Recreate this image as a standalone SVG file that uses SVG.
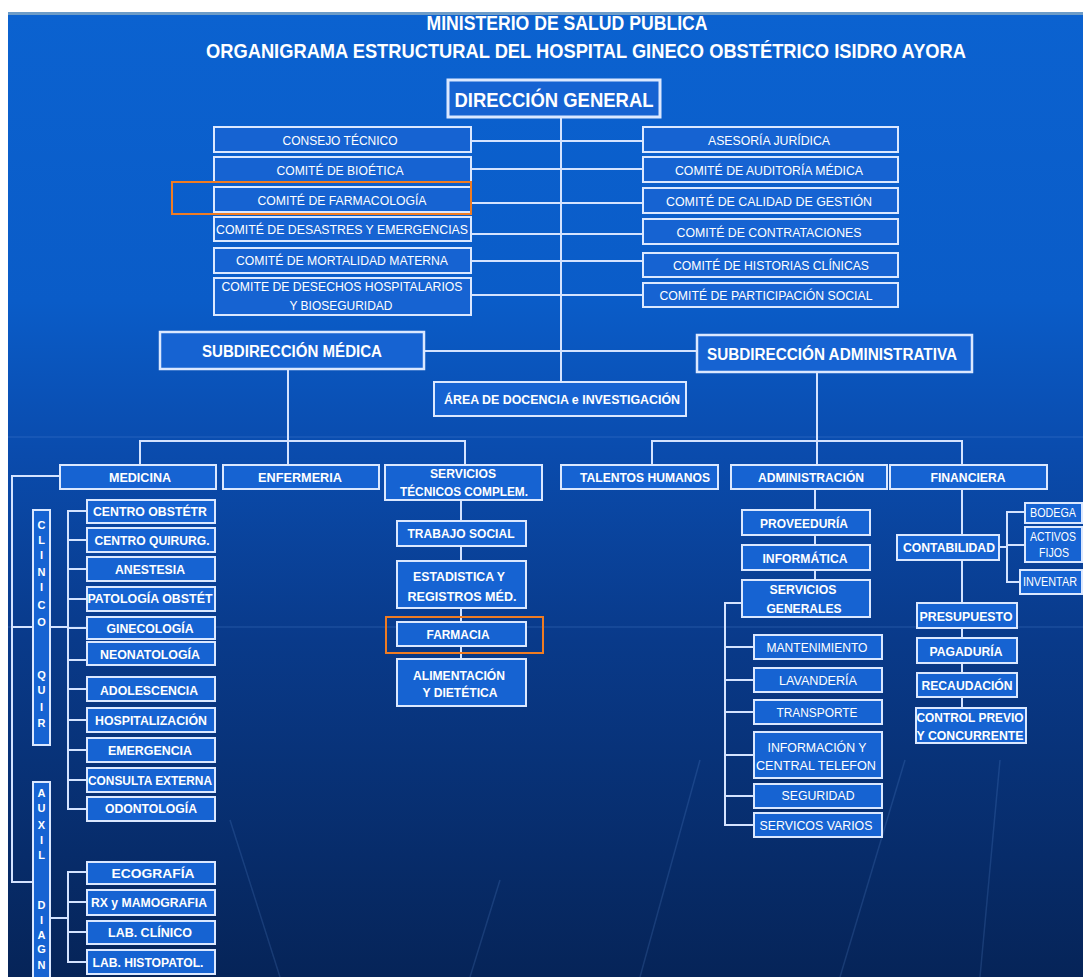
<svg xmlns="http://www.w3.org/2000/svg" width="1083" height="977" viewBox="0 0 1083 977">
<defs>
<linearGradient id="bg" x1="0" y1="0" x2="0" y2="1">
<stop offset="0" stop-color="#0b62d0"/>
<stop offset="0.3" stop-color="#0a5cc8"/>
<stop offset="0.45" stop-color="#0a4cae"/>
<stop offset="0.65" stop-color="#093a8a"/>
<stop offset="1" stop-color="#062458"/>
</linearGradient>
<style>
.bx{fill:#1663d2;stroke:#dbe8ff;stroke-width:2}
.hl{fill:none;stroke:#f07c22;stroke-width:2}
.cn{fill:none;stroke:#d4e3ff;stroke-width:2}
.dec{fill:none;stroke:#6ea0e8;stroke-width:1.5;opacity:0.18}
.t{font-family:"Liberation Sans Narrow","Liberation Sans",Arial,sans-serif;fill:#ffffff;text-anchor:middle}
.r{font-size:13px;font-weight:normal}
.s{font-size:12px;font-weight:normal}
.b{font-size:13px;font-weight:bold}
.v{font-family:"Liberation Sans",Arial,sans-serif;font-size:11px;font-weight:bold;fill:#ffffff;text-anchor:middle}
</style>
</defs>
<rect x="0" y="0" width="1083" height="977" fill="#ffffff"/>
<rect x="8" y="12" width="1075" height="965" fill="url(#bg)"/>
<rect x="8" y="12" width="1075" height="3" fill="#6d9cc8"/>
<g id="background-lines">
<line class="dec" x1="8" y1="437" x2="1083" y2="437"/>
<line class="dec" x1="8" y1="627" x2="1083" y2="627"/>
<line class="dec" x1="640" y1="977" x2="700" y2="760"/>
<line class="dec" x1="840" y1="977" x2="905" y2="760"/>
<line class="dec" x1="980" y1="977" x2="1000" y2="760"/>
<line class="dec" x1="280" y1="977" x2="230" y2="820"/>
<line class="dec" x1="470" y1="977" x2="500" y2="880"/>
</g>
<g id="title">
<text class="t" x="567" y="30" style="font-size:21px;font-weight:bold" textLength="281" lengthAdjust="spacingAndGlyphs">MINISTERIO DE SALUD PUBLICA</text>
<text class="t" x="586" y="58" style="font-size:21px;font-weight:bold" textLength="760" lengthAdjust="spacingAndGlyphs">ORGANIGRAMA ESTRUCTURAL DEL HOSPITAL GINECO OBSTÉTRICO ISIDRO AYORA</text>
</g>
<g id="connectors">
<line class="cn" x1="561" y1="117" x2="561" y2="382"/>
<line class="cn" x1="471" y1="141" x2="643" y2="141"/>
<line class="cn" x1="471" y1="169" x2="643" y2="169"/>
<line class="cn" x1="471" y1="203" x2="643" y2="203"/>
<line class="cn" x1="471" y1="234" x2="643" y2="234"/>
<line class="cn" x1="471" y1="261" x2="643" y2="261"/>
<line class="cn" x1="471" y1="295" x2="643" y2="295"/>
<line class="cn" x1="424" y1="351" x2="697" y2="351"/>
<line class="cn" x1="288" y1="369" x2="288" y2="465"/>
<polyline class="cn" points="140,465 140,441 465,441 465,465"/>
<line class="cn" x1="817" y1="372" x2="817" y2="465"/>
<polyline class="cn" points="652,465 652,441 962,441 962,465"/>
<line class="cn" x1="815" y1="489" x2="815" y2="580"/>
<polyline class="cn" points="742,603 725,603 725,825 754,825"/>
<line class="cn" x1="725" y1="647" x2="754" y2="647"/>
<line class="cn" x1="725" y1="680" x2="754" y2="680"/>
<line class="cn" x1="725" y1="712" x2="754" y2="712"/>
<line class="cn" x1="725" y1="755" x2="754" y2="755"/>
<line class="cn" x1="725" y1="796" x2="754" y2="796"/>
<line class="cn" x1="962" y1="489" x2="962" y2="708"/>
<line class="cn" x1="999" y1="547" x2="1007" y2="547"/>
<polyline class="cn" points="1025,512 1007,512 1007,582 1020,582"/>
<line class="cn" x1="1007" y1="545" x2="1025" y2="545"/>
<line class="cn" x1="461" y1="500" x2="461" y2="659"/>
<polyline class="cn" points="60,476 12,476 12,882 33,882"/>
<line class="cn" x1="12" y1="627" x2="33" y2="627"/>
<line class="cn" x1="50" y1="627" x2="68" y2="627"/>
<polyline class="cn" points="87,511 68,511 68,809 87,809"/>
<line class="cn" x1="68" y1="540" x2="87" y2="540"/>
<line class="cn" x1="68" y1="569" x2="87" y2="569"/>
<line class="cn" x1="68" y1="599" x2="87" y2="599"/>
<line class="cn" x1="68" y1="628" x2="87" y2="628"/>
<line class="cn" x1="68" y1="660" x2="87" y2="660"/>
<line class="cn" x1="68" y1="689" x2="87" y2="689"/>
<line class="cn" x1="68" y1="720" x2="87" y2="720"/>
<line class="cn" x1="68" y1="750" x2="87" y2="750"/>
<line class="cn" x1="68" y1="780" x2="87" y2="780"/>
<line class="cn" x1="50" y1="918" x2="68" y2="918"/>
<polyline class="cn" points="87,872 68,872 68,962 87,962"/>
<line class="cn" x1="68" y1="902" x2="87" y2="902"/>
<line class="cn" x1="68" y1="932" x2="87" y2="932"/>
</g>
<g id="direccion-general"><rect class="bx" x="448" y="80" width="212" height="37" style="stroke-width:3"/><text class="t" x="554" y="107" style="font-size:21px;font-weight:bold" textLength="199" lengthAdjust="spacingAndGlyphs">DIRECCIÓN GENERAL</text></g>
<g id="consejo-tecnico"><rect class="bx" x="214" y="127" width="257" height="25"/><text class="t r" x="340" y="145" textLength="115" lengthAdjust="spacingAndGlyphs">CONSEJO TÉCNICO</text></g>
<g id="comite-bioetica"><rect class="bx" x="214" y="157" width="257" height="25"/><text class="t r" x="340" y="175" textLength="127" lengthAdjust="spacingAndGlyphs">COMITÉ DE BIOÉTICA</text></g>
<g id="comite-farmacologia"><rect class="bx" x="214" y="187" width="257" height="25"/><text class="t r" x="342" y="205" textLength="169" lengthAdjust="spacingAndGlyphs">COMITÉ DE FARMACOLOGÍA</text><rect class="hl" x="172" y="182" width="299" height="32"/></g>
<g id="comite-desastres"><rect class="bx" x="214" y="217" width="257" height="24"/><text class="t r" x="342" y="234" textLength="252" lengthAdjust="spacingAndGlyphs">COMITÉ  DE DESASTRES Y EMERGENCIAS</text></g>
<g id="comite-mortalidad"><rect class="bx" x="214" y="248" width="257" height="25"/><text class="t r" x="342" y="265" textLength="212" lengthAdjust="spacingAndGlyphs">COMITÉ DE MORTALIDAD MATERNA</text></g>
<g id="comite-desechos"><rect class="bx" x="214" y="278" width="257" height="37"/><text class="t r" x="342" y="291" textLength="241" lengthAdjust="spacingAndGlyphs">COMITE DE DESECHOS HOSPITALARIOS</text><text class="t r" x="341" y="310" textLength="103" lengthAdjust="spacingAndGlyphs">Y BIOSEGURIDAD</text></g>
<g id="asesoria-juridica"><rect class="bx" x="643" y="127" width="255" height="25"/><text class="t r" x="769" y="145" textLength="122" lengthAdjust="spacingAndGlyphs">ASESORÍA JURÍDICA</text></g>
<g id="comite-auditoria"><rect class="bx" x="643" y="157" width="255" height="25"/><text class="t r" x="769" y="175" textLength="188" lengthAdjust="spacingAndGlyphs">COMITÉ DE AUDITORÍA MÉDICA</text></g>
<g id="comite-calidad"><rect class="bx" x="643" y="188" width="255" height="25"/><text class="t r" x="769" y="206" textLength="206" lengthAdjust="spacingAndGlyphs">COMITÉ DE  CALIDAD DE GESTIÓN</text></g>
<g id="comite-contrataciones"><rect class="bx" x="643" y="219" width="255" height="25"/><text class="t r" x="769" y="237" textLength="185" lengthAdjust="spacingAndGlyphs">COMITÉ DE CONTRATACIONES</text></g>
<g id="comite-historias"><rect class="bx" x="643" y="253" width="255" height="24"/><text class="t r" x="771" y="270" textLength="196" lengthAdjust="spacingAndGlyphs">COMITÉ DE HISTORIAS CLÍNICAS</text></g>
<g id="comite-participacion"><rect class="bx" x="643" y="283" width="255" height="24"/><text class="t r" x="766" y="300" textLength="213" lengthAdjust="spacingAndGlyphs">COMITÉ DE PARTICIPACIÓN SOCIAL</text></g>
<g id="subdireccion-medica"><rect class="bx" x="160" y="332" width="264" height="37" style="stroke-width:2.5"/><text class="t" x="292" y="357" style="font-size:16px;font-weight:bold" textLength="180" lengthAdjust="spacingAndGlyphs">SUBDIRECCIÓN MÉDICA</text></g>
<g id="subdireccion-administrativa"><rect class="bx" x="697" y="335" width="275" height="37" style="stroke-width:2.5"/><text class="t" x="832" y="360" style="font-size:16px;font-weight:bold" textLength="250" lengthAdjust="spacingAndGlyphs">SUBDIRECCIÓN ADMINISTRATIVA</text></g>
<g id="area-docencia"><rect class="bx" x="434" y="382" width="252" height="34"/><text class="t b" x="562" y="404" textLength="236" lengthAdjust="spacingAndGlyphs">ÁREA DE DOCENCIA e INVESTIGACIÓN</text></g>
<g id="medicina"><rect class="bx" x="60" y="465" width="156" height="24"/><text class="t b" x="140" y="482" textLength="62" lengthAdjust="spacingAndGlyphs">MEDICINA</text></g>
<g id="enfermeria"><rect class="bx" x="223" y="465" width="156" height="24"/><text class="t b" x="300" y="482" textLength="84" lengthAdjust="spacingAndGlyphs">ENFERMERIA</text></g>
<g id="servicios-tecnicos"><rect class="bx" x="385" y="465" width="157" height="35"/><text class="t b" x="463" y="478" textLength="66" lengthAdjust="spacingAndGlyphs">SERVICIOS</text><text class="t b" x="464" y="496" textLength="128" lengthAdjust="spacingAndGlyphs">TÉCNICOS COMPLEM.</text></g>
<g id="talentos-humanos"><rect class="bx" x="561" y="465" width="157" height="24"/><text class="t b" x="645" y="482" textLength="130" lengthAdjust="spacingAndGlyphs">TALENTOS HUMANOS</text></g>
<g id="administracion"><rect class="bx" x="731" y="465" width="156" height="24"/><text class="t b" x="811" y="482" textLength="106" lengthAdjust="spacingAndGlyphs">ADMINISTRACIÓN</text></g>
<g id="financiera"><rect class="bx" x="890" y="465" width="157" height="24"/><text class="t b" x="968" y="482" textLength="75" lengthAdjust="spacingAndGlyphs">FINANCIERA</text></g>
<g id="trabajo-social"><rect class="bx" x="397" y="521" width="129" height="25"/><text class="t b" x="461" y="538" textLength="107" lengthAdjust="spacingAndGlyphs">TRABAJO SOCIAL</text></g>
<g id="estadistica"><rect class="bx" x="397" y="561" width="129" height="47"/><text class="t b" x="459" y="581" textLength="92" lengthAdjust="spacingAndGlyphs">ESTADISTICA Y</text><text class="t b" x="462" y="601" textLength="109" lengthAdjust="spacingAndGlyphs">REGISTROS MÉD.</text></g>
<g id="farmacia"><rect class="bx" x="397" y="622" width="129" height="24"/><text class="t b" x="458" y="639" textLength="63" lengthAdjust="spacingAndGlyphs">FARMACIA</text><rect class="hl" x="386" y="617" width="157" height="36"/></g>
<g id="alimentacion"><rect class="bx" x="397" y="659" width="129" height="47"/><text class="t b" x="459" y="680" textLength="92" lengthAdjust="spacingAndGlyphs">ALIMENTACIÓN</text><text class="t b" x="460" y="697" textLength="75" lengthAdjust="spacingAndGlyphs">Y DIETÉTICA</text></g>
<g id="clinico-quir"><rect class="bx" x="33" y="510" width="17" height="235"/>
<text class="v" x="41.5" y="529">C</text><text class="v" x="41.5" y="544">L</text><text class="v" x="41.5" y="559">I</text><text class="v" x="41.5" y="576">N</text><text class="v" x="41.5" y="591">I</text><text class="v" x="41.5" y="609">C</text><text class="v" x="41.5" y="626">O</text><text class="v" x="41.5" y="679">Q</text><text class="v" x="41.5" y="694">U</text><text class="v" x="41.5" y="711">I</text><text class="v" x="41.5" y="727">R</text></g>
<g id="centro-obstetrico"><rect class="bx" x="87" y="500" width="128" height="23"/><text class="t b" x="150" y="516" textLength="114" lengthAdjust="spacingAndGlyphs">CENTRO OBSTÉTR</text></g>
<g id="centro-quirurgico"><rect class="bx" x="87" y="528" width="128" height="24"/><text class="t b" x="152" y="545" textLength="115" lengthAdjust="spacingAndGlyphs">CENTRO QUIRURG.</text></g>
<g id="anestesia"><rect class="bx" x="87" y="557" width="128" height="24"/><text class="t b" x="150" y="574" textLength="70" lengthAdjust="spacingAndGlyphs">ANESTESIA</text></g>
<g id="patologia-obstetrica"><rect class="bx" x="87" y="587" width="128" height="24"/><text class="t b" x="150" y="603" textLength="125" lengthAdjust="spacingAndGlyphs">PATOLOGÍA OBSTÉT</text></g>
<g id="ginecologia"><rect class="bx" x="87" y="617" width="128" height="22"/><text class="t b" x="150" y="633" textLength="87" lengthAdjust="spacingAndGlyphs">GINECOLOGÍA</text></g>
<g id="neonatologia"><rect class="bx" x="87" y="642" width="128" height="23"/><text class="t b" x="150" y="659" textLength="100" lengthAdjust="spacingAndGlyphs">NEONATOLOGÍA</text></g>
<g id="adolescencia"><rect class="bx" x="87" y="677" width="128" height="24"/><text class="t b" x="149" y="695" textLength="98" lengthAdjust="spacingAndGlyphs">ADOLESCENCIA</text></g>
<g id="hospitalizacion"><rect class="bx" x="87" y="708" width="128" height="24"/><text class="t b" x="151" y="725" textLength="112" lengthAdjust="spacingAndGlyphs">HOSPITALIZACIÓN</text></g>
<g id="emergencia"><rect class="bx" x="87" y="738" width="128" height="24"/><text class="t b" x="150" y="755" textLength="84" lengthAdjust="spacingAndGlyphs">EMERGENCIA</text></g>
<g id="consulta-externa"><rect class="bx" x="87" y="768" width="128" height="24"/><text class="t b" x="150" y="785" textLength="124" lengthAdjust="spacingAndGlyphs">CONSULTA EXTERNA</text></g>
<g id="odontologia"><rect class="bx" x="87" y="797" width="128" height="24"/><text class="t b" x="151" y="813" textLength="92" lengthAdjust="spacingAndGlyphs">ODONTOLOGÍA</text></g>
<g id="auxil-diag"><rect class="bx" x="33" y="782" width="17" height="210"/>
<text class="v" x="41.5" y="797">A</text><text class="v" x="41.5" y="812">U</text><text class="v" x="41.5" y="829">X</text><text class="v" x="41.5" y="844">I</text><text class="v" x="41.5" y="859">L</text><text class="v" x="41.5" y="909">D</text><text class="v" x="41.5" y="924">I</text><text class="v" x="41.5" y="939">A</text><text class="v" x="41.5" y="953">G</text><text class="v" x="41.5" y="969">N</text></g>
<g id="ecografia"><rect class="bx" x="87" y="862" width="128" height="22"/><text class="t b" x="153" y="878" textLength="83" lengthAdjust="spacingAndGlyphs">ECOGRAFÍA</text></g>
<g id="rx-mamografia"><rect class="bx" x="87" y="890" width="128" height="25"/><text class="t b" x="149" y="907" textLength="116" lengthAdjust="spacingAndGlyphs">RX y MAMOGRAFIA</text></g>
<g id="lab-clinico"><rect class="bx" x="87" y="921" width="128" height="23"/><text class="t b" x="150" y="937" textLength="84" lengthAdjust="spacingAndGlyphs">LAB. CLÍNICO</text></g>
<g id="lab-histopatologia"><rect class="bx" x="87" y="950" width="128" height="24"/><text class="t b" x="148" y="967" textLength="111" lengthAdjust="spacingAndGlyphs">LAB. HISTOPATOL.</text></g>
<g id="proveeduria"><rect class="bx" x="742" y="510" width="128" height="25"/><text class="t b" x="804" y="528" textLength="88" lengthAdjust="spacingAndGlyphs">PROVEEDURÍA</text></g>
<g id="informatica"><rect class="bx" x="742" y="545" width="128" height="25"/><text class="t b" x="805" y="563" textLength="85" lengthAdjust="spacingAndGlyphs">INFORMÁTICA</text></g>
<g id="servicios-generales"><rect class="bx" x="742" y="580" width="128" height="37"/><text class="t b" x="803" y="594" textLength="67" lengthAdjust="spacingAndGlyphs">SERVICIOS</text><text class="t b" x="804" y="613" textLength="75" lengthAdjust="spacingAndGlyphs">GENERALES</text></g>
<g id="mantenimiento"><rect class="bx" x="754" y="635" width="128" height="24"/><text class="t r" x="817" y="652" textLength="101" lengthAdjust="spacingAndGlyphs">MANTENIMIENTO</text></g>
<g id="lavanderia"><rect class="bx" x="754" y="668" width="128" height="24"/><text class="t r" x="818" y="685" textLength="78" lengthAdjust="spacingAndGlyphs">LAVANDERÍA</text></g>
<g id="transporte"><rect class="bx" x="754" y="700" width="128" height="24"/><text class="t r" x="817" y="717" textLength="81" lengthAdjust="spacingAndGlyphs">TRANSPORTE</text></g>
<g id="informacion-central"><rect class="bx" x="754" y="732" width="128" height="46"/><text class="t r" x="817" y="752" textLength="99" lengthAdjust="spacingAndGlyphs">INFORMACIÓN Y</text><text class="t r" x="816" y="770" textLength="120" lengthAdjust="spacingAndGlyphs">CENTRAL TELEFON</text></g>
<g id="seguridad"><rect class="bx" x="754" y="784" width="128" height="24"/><text class="t r" x="818" y="800" textLength="73" lengthAdjust="spacingAndGlyphs">SEGURIDAD</text></g>
<g id="servicios-varios"><rect class="bx" x="754" y="813" width="128" height="24"/><text class="t r" x="816" y="830" textLength="113" lengthAdjust="spacingAndGlyphs">SERVICOS VARIOS</text></g>
<g id="contabilidad"><rect class="bx" x="897" y="535" width="102" height="25"/><text class="t b" x="949" y="552" textLength="92" lengthAdjust="spacingAndGlyphs">CONTABILIDAD</text></g>
<g id="bodega"><rect class="bx" x="1025" y="503" width="57" height="20"/><text class="t s" x="1053" y="517" textLength="46" lengthAdjust="spacingAndGlyphs">BODEGA</text></g>
<g id="activos-fijos"><rect class="bx" x="1025" y="527" width="57" height="35"/><text class="t s" x="1053" y="541" textLength="46" lengthAdjust="spacingAndGlyphs">ACTIVOS</text><text class="t s" x="1054" y="557" textLength="30" lengthAdjust="spacingAndGlyphs">FIJOS</text></g>
<g id="inventario"><rect class="bx" x="1020" y="570" width="62" height="24"/><text class="t s" x="1050" y="586" textLength="54" lengthAdjust="spacingAndGlyphs">INVENTAR</text></g>
<g id="presupuesto"><rect class="bx" x="917" y="603" width="100" height="25"/><text class="t b" x="966" y="621" textLength="93" lengthAdjust="spacingAndGlyphs">PRESUPUESTO</text></g>
<g id="pagaduria"><rect class="bx" x="917" y="638" width="100" height="25"/><text class="t b" x="966" y="656" textLength="73" lengthAdjust="spacingAndGlyphs">PAGADURÍA</text></g>
<g id="recaudacion"><rect class="bx" x="917" y="673" width="100" height="24"/><text class="t b" x="967" y="690" textLength="91" lengthAdjust="spacingAndGlyphs">RECAUDACIÓN</text></g>
<g id="control-previo"><rect class="bx" x="916" y="708" width="110" height="35"/><text class="t b" x="970" y="722" textLength="107" lengthAdjust="spacingAndGlyphs">CONTROL PREVIO</text><text class="t b" x="970" y="740" textLength="107" lengthAdjust="spacingAndGlyphs">Y CONCURRENTE</text></g>
</svg>
